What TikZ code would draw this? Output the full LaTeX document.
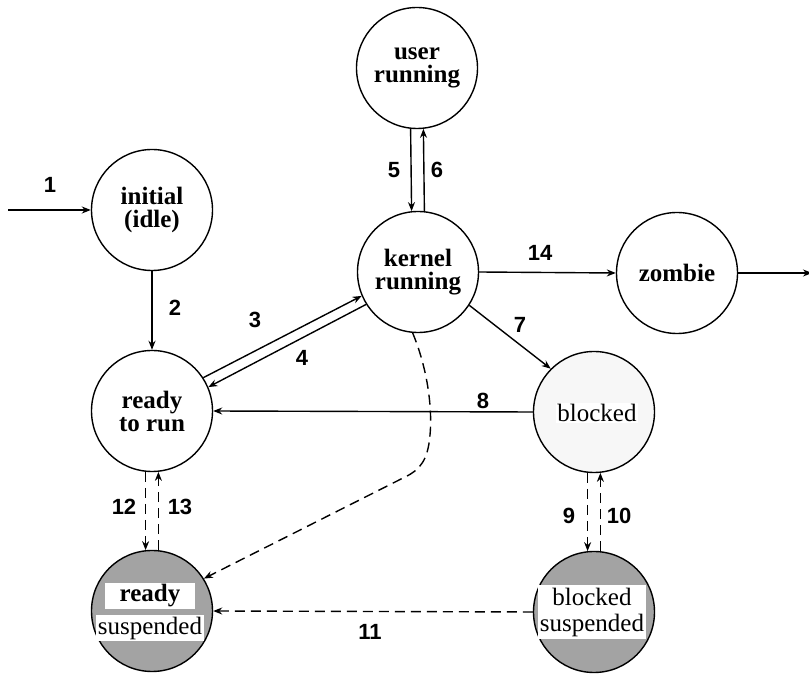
\documentclass[tikz,border=0pt]{standalone}
\usepackage{fontspec}
\setmainfont{Liberation Serif}
\newfontfamily\numfont{Liberation Sans}
\usetikzlibrary{arrows.meta}
\begin{document}
\begin{tikzpicture}[x=1pt,y=1pt,
  state/.style={circle, draw, line width=1.4pt, minimum size=121pt, inner sep=0pt,
    font=\bfseries\fontsize{25}{25}\selectfont, align=center},
  susp/.style={state, fill=black!36},
  plain/.style={font=\fontsize{25}{26}\selectfont, inner sep=1.5pt, fill=white},
  lab/.style={font=\numfont\bfseries\fontsize{22}{22}\selectfont, inner sep=1pt},
  arr/.style={-{Stealth[length=9pt,width=7pt]}, line width=1.4pt},
  dsh/.style={arr, dash pattern=on 10pt off 6pt}]
\useasboundingbox (0,0) rectangle (809,675);
% states
\node[state] (user) at (417,607) {user\\[-2pt]running};
\node[state] (initial) at (152,465) {initial\\[-2pt](idle)};
\node[state] (kernel) at (418,403) {kernel\\[-2pt]running};
\node[state] (zombie) at (677,402) {zombie};
\node[state] (ready) at (152,264) {ready\\[-2pt]to run};
\node[state, fill=gray!6] (blocked) at (594,263) {};
\node[plain] (blockedT) at (597,262) {blocked};
\node[susp] (rsusp) at (152,64) {};
\node[plain, font=\bfseries\fontsize{25}{25}\selectfont, minimum width=90pt] (rsuspA) at (150,79) {ready};
\node[plain] (rsuspB) at (150,47) {suspended};
\node[susp] (bsusp) at (594,63) {};
\node[plain, align=center, inner ysep=3pt] (bsuspT) at (592,63) {blocked\\suspended};
% entry / exit
\coordinate (start) at (8,465);
\coordinate (zend) at (812,402);
\draw[arr] (start) -- (initial.west);
\draw[arr] (zombie.east) -- (zend);
% transitions
\draw[arr] (initial.south) -- (ready.north);
\draw[arr] (ready.33) -- (kernel.203);
\draw[arr] (kernel.212) -- (ready.23);
\draw[arr] (user.264) -- (kernel.96);
\draw[arr] (kernel.84) -- (user.276);
\draw[arr] (kernel.east) -- (zombie.west);
\draw[arr] (kernel.-33) -- (blocked.135);
\draw[arr] (blocked.west) -- (ready.east);
\draw[dsh] (blocked.264) -- (bsusp.96);
\draw[dsh] (bsusp.84) -- (blocked.276);
\draw[dsh] (ready.264) -- (rsusp.96);
\draw[dsh] (rsusp.84) -- (ready.276);
\draw[dsh] (bsusp.west) -- (rsusp.east);
\draw[dsh] (kernel.265) .. controls (430,300) and (432,260) .. (430,240)
   .. controls (428,215) and (420,205) .. (405,198) -- (rsusp.32);
% labels
\node[lab] (l1) at (50,490) {1};
\node[lab] (l2) at (175,367) {2};
\node[lab] (l3) at (255,355) {3};
\node[lab] (l4) at (302,317) {4};
\node[lab] (l5) at (394,505) {5};
\node[lab] (l6) at (437,505) {6};
\node[lab] (l14) at (540,422) {14};
\node[lab] (l7) at (520,350) {7};
\node[lab, fill=white, inner xsep=5pt] (l8) at (483,274) {8};
\node[lab] (l9) at (569,159) {9};
\node[lab] (l10) at (619,159) {10};
\node[lab] (l12) at (124,168) {12};
\node[lab] (l13) at (180,168) {13};
\node[lab] (l11) at (370,43) {11};
\end{tikzpicture}
\end{document}
